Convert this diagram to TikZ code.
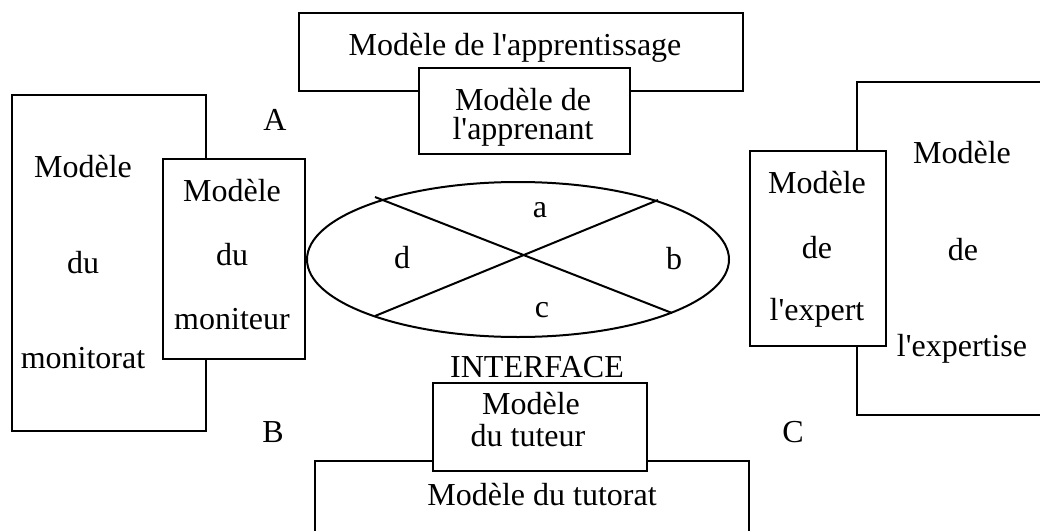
\documentclass[tikz,border=0pt]{standalone}
\usepackage{fontspec}
\setmainfont{Liberation Serif}[Ligatures=TeXOff]
\usetikzlibrary{shapes.geometric}
\tikzset{
  box/.style={draw, line width=2.2pt, fill=white, inner sep=0pt, rectangle},
  txt/.style={anchor=base, inner sep=0pt, font=\fontsize{32}{36}\selectfont},
  oval/.style={draw, line width=2pt, ellipse, inner sep=0pt},
  cross/.style={line width=2pt}
}
\begin{document}
\begin{tikzpicture}[x=1pt,y=-1pt]
\useasboundingbox (0,0) rectangle (1040,530);
\clip (0,0) rectangle (1040,530);
% outer boxes
\node[box, minimum width=444pt, minimum height=78pt] (apprentissage) at (521,52) {};
\node[box, minimum width=194pt, minimum height=336pt] (monitorat) at (109,263) {};
\node[box, minimum width=203pt, minimum height=333pt] (expertise) at (958.5,248.5) {};
\node[box, minimum width=434pt, minimum height=99pt] (tutorat) at (532,510.5) {};
% inner boxes
\node[box, minimum width=211pt, minimum height=86pt] (apprenant) at (524.5,111) {};
\node[box, minimum width=142pt, minimum height=200pt] (moniteur) at (234,259) {};
\node[box, minimum width=136pt, minimum height=195pt] (expert) at (818,248.5) {};
\node[box, minimum width=214pt, minimum height=88pt] (tuteur) at (540,427) {};
% interface ellipse
\node[oval, minimum width=422pt, minimum height=155pt] (iface) at (518,259.5) {};
\coordinate (p1) at (375,197);
\coordinate (p2) at (672,313);
\coordinate (p3) at (658,200);
\coordinate (p4) at (375,316);
\draw[cross] (p1) -- (p2);
\draw[cross] (p3) -- (p4);
% texts
\node[txt] (t1) at (515,55) {Modèle de l'apprentissage};
\node[txt] (t2) at (523,110) {Modèle de};
\node[txt] (t3) at (523,139) {l'apprenant};
\node[txt] (t4) at (83,177) {Modèle};
\node[txt] (t5) at (83,273) {du};
\node[txt] (t6) at (83,368) {monitorat};
\node[txt] (t7) at (232,201) {Modèle};
\node[txt] (t8) at (232,265) {du};
\node[txt] (t9) at (232,329) {moniteur};
\node[txt] (t10) at (962,163) {Modèle};
\node[txt] (t11) at (963,260) {de};
\node[txt] (t12) at (962,356) {l'expertise};
\node[txt] (t13) at (817,193) {Modèle};
\node[txt] (t14) at (817,258) {de};
\node[txt] (t15) at (817,320) {l'expert};
\node[txt] (ta) at (540,217) {a};
\node[txt] (td) at (402,268) {d};
\node[txt] (tb) at (674,269) {b};
\node[txt] (tc) at (542,317) {c};
\node[txt] (tint) at (537,377) {INTERFACE};
\node[txt] (t16) at (531,414) {Modèle};
\node[txt] (t17) at (528,446) {du tuteur};
\node[txt] (t18) at (542,505) {Modèle du tutorat};
\node[txt] (lA) at (275,130) {A};
\node[txt] (lB) at (273,442) {B};
\node[txt] (lC) at (793,442) {C};
\end{tikzpicture}
\end{document}
